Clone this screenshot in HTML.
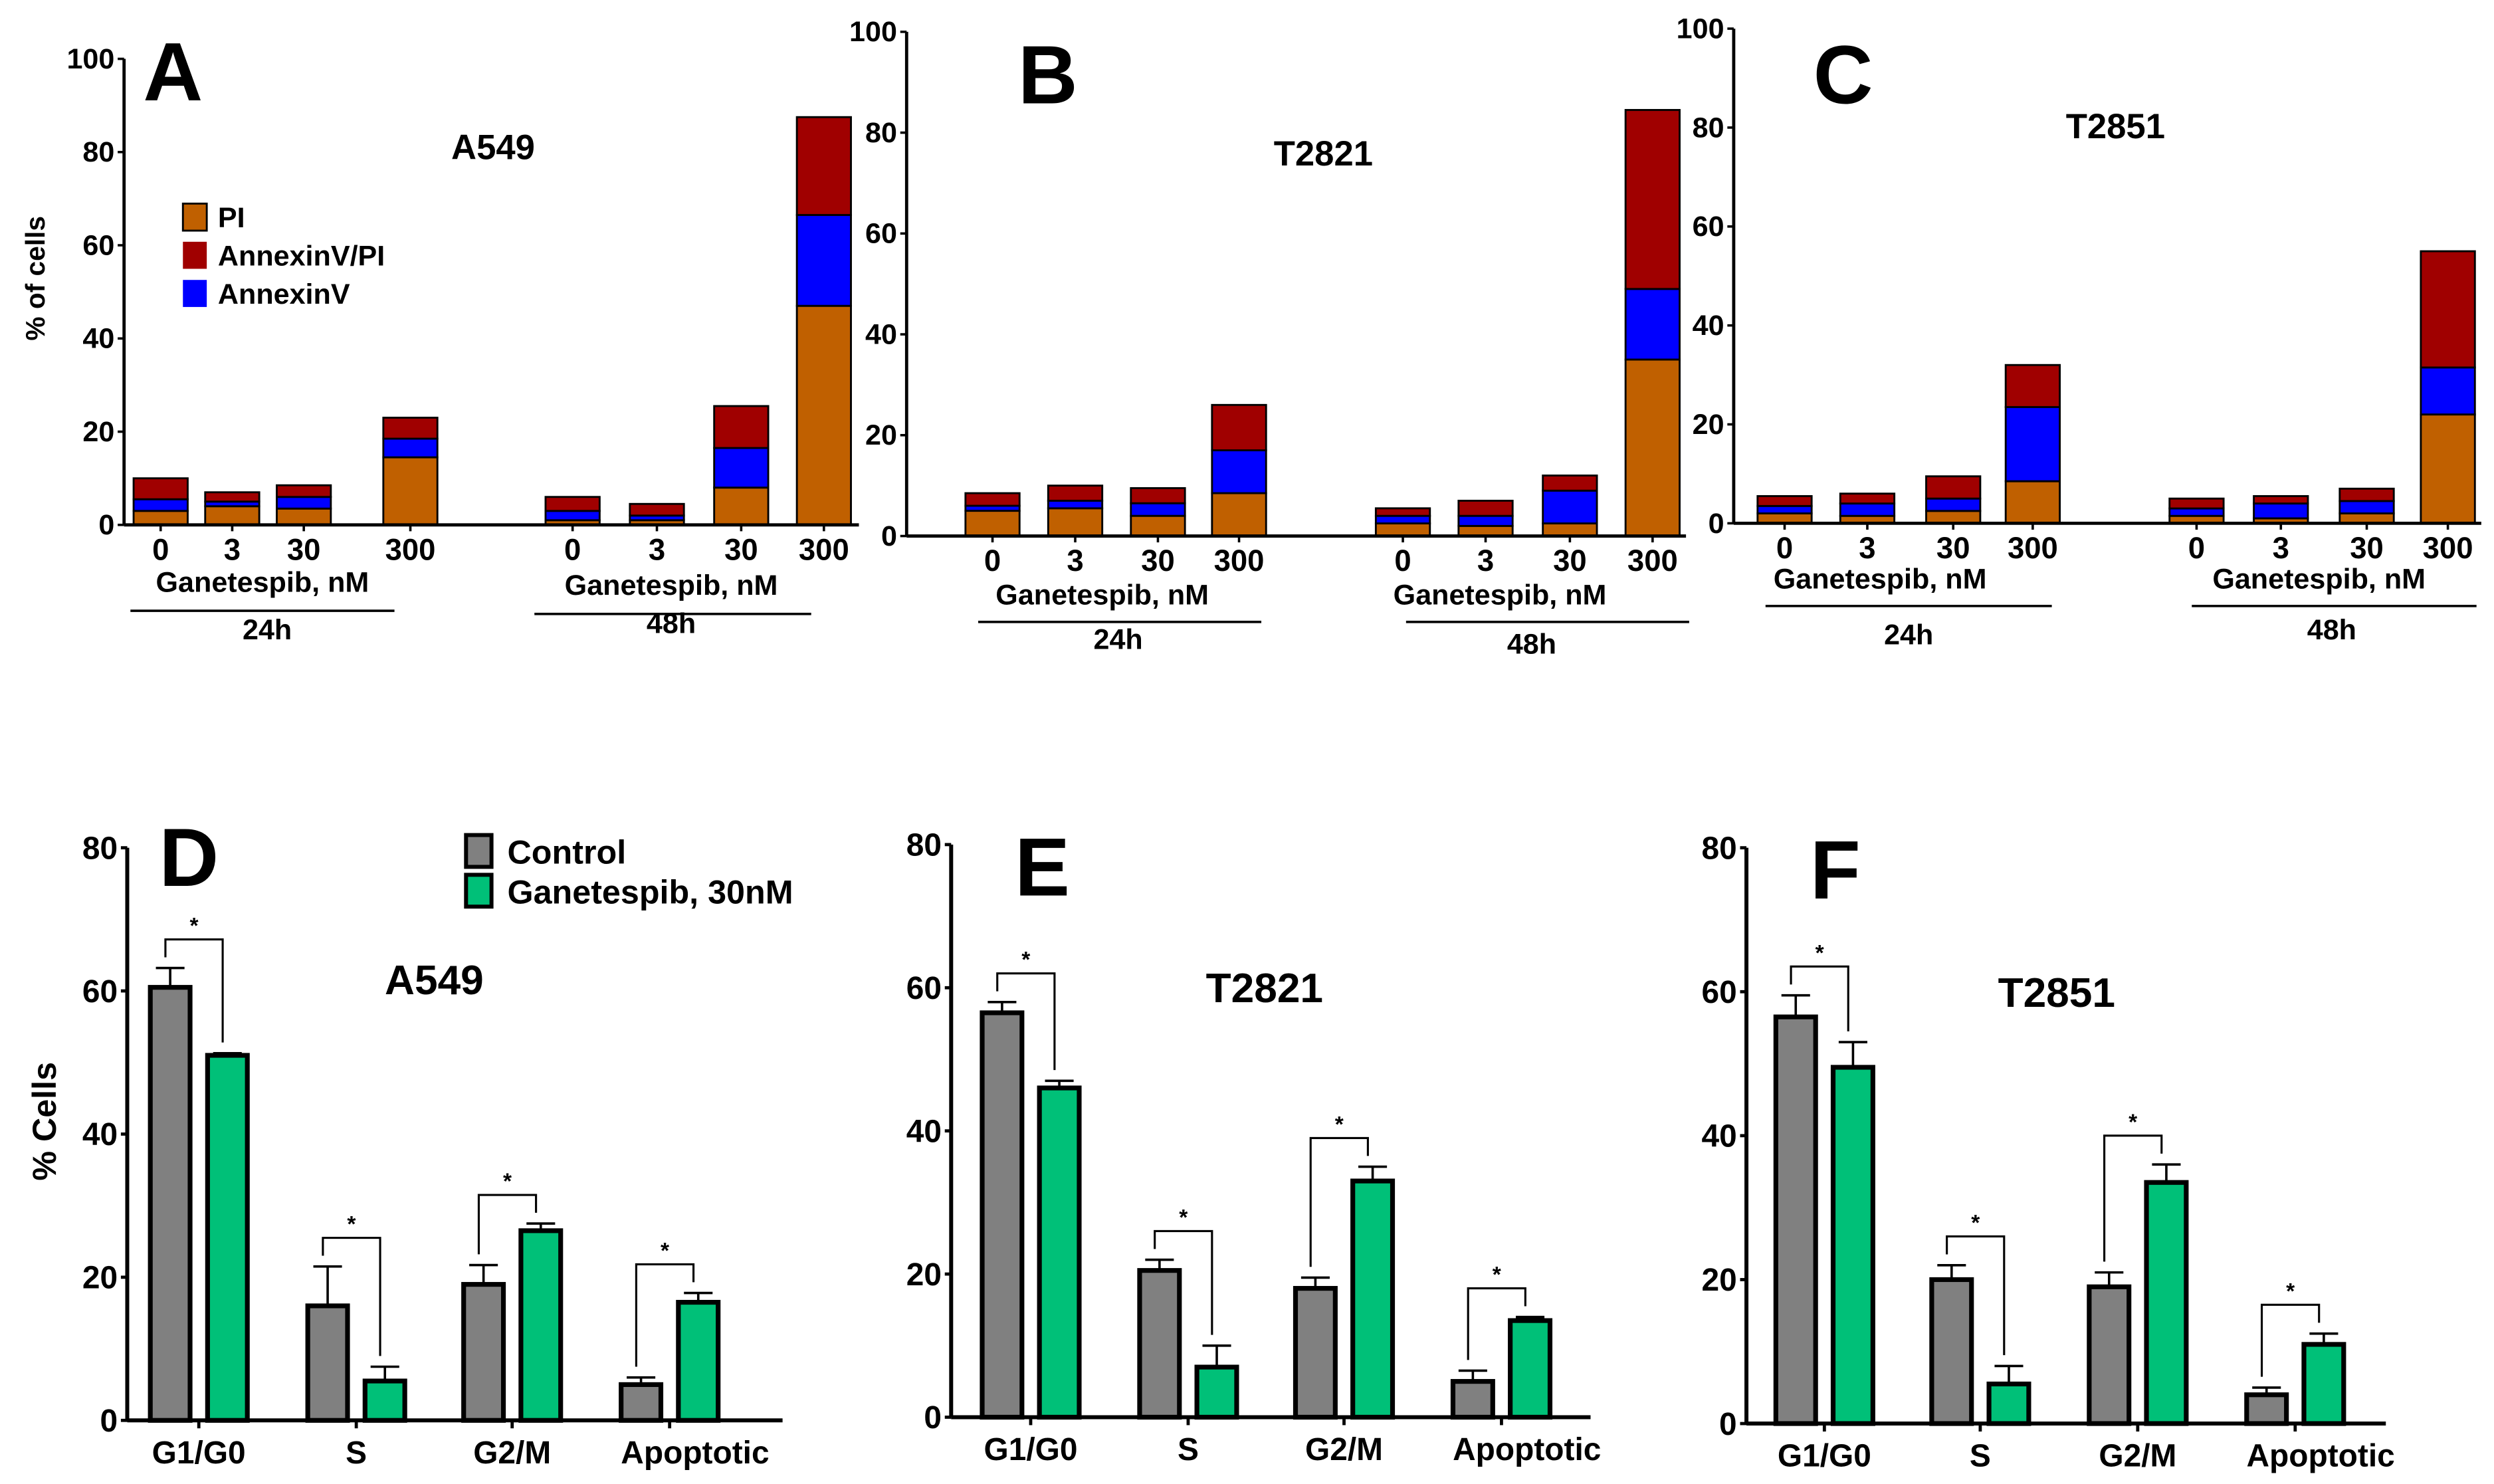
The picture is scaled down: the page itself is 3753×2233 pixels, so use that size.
<!DOCTYPE html>
<html><head><meta charset="utf-8"><style>
html,body{margin:0;padding:0;background:#fff}
svg{display:block}
text{font-family:"Liberation Sans Narrow","Liberation Sans",sans-serif;fill:#000;font-weight:bold}
.b{font-family:"Liberation Sans",sans-serif;font-weight:bold}
</style></head><body>
<svg id="fig" width="3753" height="2233" viewBox="0 0 1568 933" preserveAspectRatio="none" xmlns="http://www.w3.org/2000/svg"></svg>
<script>
// ---- Top panels data (PI, AnnexinV, AnnexinV/PI segment values) ----
const doseLabels = ["0","3","30","300"];
const yTicksTop = [0,20,40,60,80,100];
const piA   = [3,4,3.5,14.5, 1,1,8,47];
const avA   = [2.5,1,2.5,4, 2,1,8.5,19.5];
const avpiA = [4.5,2,2.5,4.5, 3,2.5,9,21];
const piB   = [5,5.5,4,8.5, 2.5,2,2.5,35];
const avB   = [1,1.5,2.5,8.5, 1.5,2,6.5,14];
const avpiB = [2.5,3,3,9, 1.5,3,3,35.5];
const piC   = [2,1.5,2.5,8.5, 1.5,1,2,22];
const avC   = [1.5,2.5,2.5,15, 1.5,3,2.5,9.5];
const avpiC = [2,2,4.5,8.5, 2,1.5,2.5,23.5];
// ---- Bottom panels data ----
const phases = ["G1/G0","S","G2/M","Apoptotic"];
const yTicksBot = [0,20,40,60,80];
const ctrlD = [60.5,16,19,5];   const ctrlErrD = [2.7,5.5,2.7,1];
const ganD  = [51,5.5,26.5,16.5]; const ganErrD = [0.3,2,1,1.3];
const ctrlE = [56.5,20.5,18,5]; const ctrlErrE = [1.5,1.5,1.5,1.5];
const ganE  = [46,7,33,13.5];   const ganErrE = [1,3,2,0.5];
const ctrlF = [56.5,20,19,4];   const ctrlErrF = [3,2,2,1];
const ganF  = [49.5,5.5,33.5,11]; const ganErrF = [3.5,2.5,2.5,1.5];

const NS="http://www.w3.org/2000/svg";
const svg=document.getElementById('fig');
function el(tag,attrs,parent){const e=document.createElementNS(NS,tag);for(const k in attrs)e.setAttribute(k,attrs[k]);(parent||svg).appendChild(e);return e;}
function txt(s,x,y,size,anchor,cls,parent){const t=el('text',{x:x,y:y,'font-size':size,'text-anchor':anchor||'middle'},parent);if(cls)t.setAttribute('class',cls);t.textContent=s;return t;}

const topPanels=[
 {id:'a',ax:78,y0:330,y1:37,xEnd:540,xs:[101,146,191,258,360,413,466,518],letter:'A',lx:90,ly:63,title:'A549',tx:310,ty:100,
  pi:piA,av:avA,avpi:avpiA,g:[[165,372,82,248,384,168,402],[422,374,336,510,386,422,398]],legend:true},
 {id:'b',ax:570,y0:337,y1:20,xEnd:1060,xs:[624,676,728,779,882,934,987,1039],letter:'B',lx:640,ly:65,title:'T2821',tx:832,ty:104,
  pi:piB,av:avB,avpi:avpiB,g:[[693,380,615,793,391,703,408],[943,380,884,1062,391,963,411]]},
 {id:'c',ax:1090,y0:329,y1:18,xEnd:1560,xs:[1122,1174,1228,1278,1381,1434,1488,1539],letter:'C',lx:1140,ly:65,title:'T2851',tx:1330,ty:87,
  pi:piC,av:avC,avpi:avpiC,g:[[1182,370,1110,1290,381,1200,405],[1458,370,1378,1557,381,1466,402]]}
];
topPanels.forEach(p=>{
  const g=el('g',{});
  
  
  const y=v=>p.y0-(p.y0-p.y1)*v/100;
  const bw=34;
  for(let i=0;i<p.xs.length;i++){
    const segs=[[p.pi[i],'#c06000','pi'],[p.av[i],'#0000ff','annexinv'],[p.avpi[i],'#a00000','annexinv-pi']];
    let base=0;
    segs.forEach(s=>{
      const r=el('rect',{x:p.xs[i]-bw/2,y:y(base+s[0]),width:bw,height:y(base)-y(base+s[0]),fill:s[1],stroke:'#000','stroke-width':1.2},g);
      
      
      base+=s[0];
    });
  }
  el('line',{x1:p.ax,y1:p.y1,x2:p.ax,y2:p.y0,stroke:'#000','stroke-width':2},g);
  el('line',{x1:p.ax,y1:p.y0,x2:p.xEnd,y2:p.y0,stroke:'#000','stroke-width':2},g);
  yTicksTop.forEach(t=>{
    el('line',{x1:p.ax-4,y1:y(t),x2:p.ax,y2:y(t),stroke:'#000','stroke-width':1.5},g);
    const l=txt(String(t),p.ax-6,y(t)+6,18,'end',null,g);
    
    
  });
  p.xs.forEach((x,i)=>{
    el('line',{x1:x,y1:p.y0,x2:x,y2:p.y0+4,stroke:'#000','stroke-width':1.5},g);
    const l=txt(doseLabels[i%4],x,p.y0+22,19,'middle',null,g);
    
    
  });
  p.g.forEach((q,k)=>{
    txt('Ganetespib, nM',q[0],q[1],18,'middle',null,g);
    el('line',{x1:q[2],y1:q[4],x2:q[3],y2:q[4],stroke:'#000','stroke-width':1.5},g);
    txt(k?'48h':'24h',q[5],q[6],18,'middle',null,g);
  });
  const L=txt(p.letter,p.lx,p.ly,52,'start','b',g);
  
  
  const T=txt(p.title,p.tx,p.ty,22,'middle','b',g);
  
  
  if(p.legend){
    const lg=el('g',{},g);
    
    
    [['PI','#c06000',128],['AnnexinV/PI','#a00000',152],['AnnexinV','#0000ff',176]].forEach(e=>{
      el('rect',{x:115,y:e[2],width:15,height:17,fill:e[1],stroke:e[0]=='PI'?'#000':'none','stroke-width':1.2},lg);
      txt(e[0],137,e[2]+15,18,'start',null,lg);
    });
    const yt=txt('% of cells',0,0,17,'middle','b',g);
    yt.setAttribute('transform','translate(28,175) rotate(-90)');
    
    
  }
});

const botPanels=[
 {id:'d',ax:80,y0:893,y1:533,xEnd:492,cx:[125,224,322,421],letter:'D',lx:100,ly:557,title:'A549',tx:273,ty:625,
  c:ctrlD,ce:ctrlErrD,gn:ganD,ge:ganErrD,legend:true},
 {id:'e',ax:598,y0:891,y1:531,xEnd:1000,cx:[648,747,845,944],letter:'E',lx:638,ly:563,title:'T2821',tx:795,ty:630,
  c:ctrlE,ce:ctrlErrE,gn:ganE,ge:ganErrE},
 {id:'f',ax:1098,y0:895,y1:533,xEnd:1500,cx:[1147,1245,1344,1443],letter:'F',lx:1138,ly:565,title:'T2851',tx:1293,ty:633,
  c:ctrlF,ce:ctrlErrF,gn:ganF,ge:ganErrF}
];
botPanels.forEach(p=>{
  const g=el('g',{});
  
  
  const y=v=>p.y0-(p.y0-p.y1)*v/80;
  const bw=25;
  phases.forEach((ph,i)=>{
    const xc=p.cx[i]-18, xg=p.cx[i]+18;
    const r1=el('rect',{x:xc-bw/2,y:y(p.c[i]),width:bw,height:p.y0-y(p.c[i]),fill:'#808080',stroke:'#000','stroke-width':3},g);
    
    
    const r2=el('rect',{x:xg-bw/2,y:y(p.gn[i]),width:bw,height:p.y0-y(p.gn[i]),fill:'#00c078',stroke:'#000','stroke-width':3},g);
    
    
    [[xc,p.c[i],p.ce[i]],[xg,p.gn[i],p.ge[i]]].forEach(b=>{
      el('line',{x1:b[0],y1:y(b[1]),x2:b[0],y2:y(b[1]+b[2]),stroke:'#000','stroke-width':1.5},g);
      el('line',{x1:b[0]-9,y1:y(b[1]+b[2]),x2:b[0]+9,y2:y(b[1]+b[2]),stroke:'#000','stroke-width':1.5},g);
    });
    const top=Math.max(p.c[i]+p.ce[i],p.gn[i]+p.ge[i])+4;
    const by=y(top);
    el('polyline',{points:`${xc-3},${y(p.c[i]+p.ce[i]+1.5)} ${xc-3},${by} ${xg-3},${by} ${xg-3},${y(p.gn[i]+p.ge[i]+1.5)}`,fill:'none',stroke:'#000','stroke-width':1.3},g);
    txt('*',p.cx[i]-3,by-4,14,'middle','b',g);
    el('line',{x1:p.cx[i],y1:p.y0,x2:p.cx[i],y2:p.y0+5,stroke:'#000','stroke-width':2},g);
    const l=txt(ph,p.cx[i]+(i==3?16:0),p.y0+27,20,'middle','b',g);
    
    
  });
  el('line',{x1:p.ax,y1:p.y1,x2:p.ax,y2:p.y0,stroke:'#000','stroke-width':2.5},g);
  el('line',{x1:p.ax,y1:p.y0,x2:p.xEnd,y2:p.y0,stroke:'#000','stroke-width':2.5},g);
  yTicksBot.forEach(t=>{
    el('line',{x1:p.ax-4,y1:y(t),x2:p.ax,y2:y(t),stroke:'#000','stroke-width':2},g);
    const l=txt(String(t),p.ax-6,y(t)+7,20,'end','b',g);
    
    
  });
  const L=txt(p.letter,p.lx,p.ly,52,'start','b',g);
  
  
  const T=txt(p.title,p.tx,p.ty,26,'middle','b',g);
  
  
  if(p.legend){
    const lg=el('g',{},g);
    
    
    el('rect',{x:293,y:525,width:16,height:20,fill:'#808080',stroke:'#000','stroke-width':2.5},lg);
    el('rect',{x:293,y:550,width:16,height:20,fill:'#00c078',stroke:'#000','stroke-width':2.5},lg);
    txt('Control',319,543,21,'start','b',lg);
    txt('Ganetespib, 30nM',319,568,21,'start','b',lg);
    const yt=txt('% Cells',0,0,21,'middle','b',g);
    yt.setAttribute('transform','translate(35,705) rotate(-90)');
    
    
  }
});
</script>
</body></html>
